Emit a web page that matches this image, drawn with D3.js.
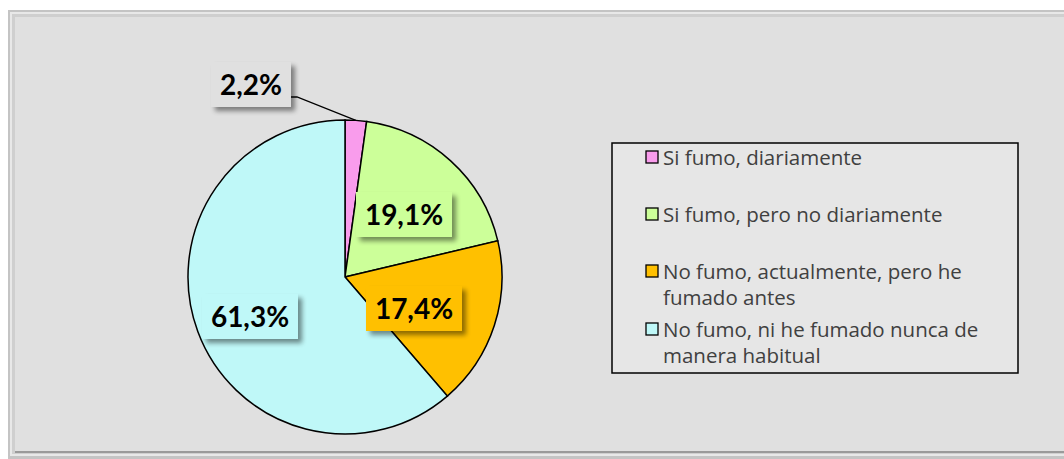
<!DOCTYPE html>
<html>
<head>
<meta charset="utf-8">
<script src="https://cdn.jsdelivr.net/npm/d3@7"></script>
<style>
  body { margin: 0; background: #fff; }
  svg { display: block; font-family: Lato, "Open Sans", sans-serif; }
</style>
</head>
<body>
<div id="chart"></div>
<script>
// categories and values (percent)
const categories = [
  "Si fumo, diariamente",
  "Si fumo, pero no diariamente",
  "No fumo, actualmente, pero he fumado antes",
  "No fumo, ni he fumado nunca de manera habitual"
];
const values = [2.2, 19.1, 17.4, 61.3];
const labels = ["2,2%", "19,1%", "17,4%", "61,3%"];
// legend lines (wrapped as in the original)
const legendLines = [
  ["Si fumo, diariamente"],
  ["Si fumo, pero no diariamente"],
  ["No fumo, actualmente, pero he", "fumado antes"],
  ["No fumo, ni he fumado nunca de", "manera habitual"]
];
const colors = ["#F99CEC", "#CCFF99", "#FFC000", "#BFF8F8"];

const width = 1064,
  height = 459;

const svg = d3
  .select("#chart")
  .append("svg")
  .attr("width", width)
  .attr("height", height);

// drop shadow for label boxes
const defs = svg.append("defs");
const filter = defs.append("filter").attr("id", "shadow")
  .attr("x", "-20%").attr("y", "-20%").attr("width", "150%").attr("height", "160%");
filter.append("feGaussianBlur").attr("in", "SourceAlpha").attr("stdDeviation", 2.5);
filter.append("feOffset").attr("dx", 4).attr("dy", 4).attr("result", "b");
filter.append("feComponentTransfer").append("feFuncA").attr("type", "linear").attr("slope", 0.45);
const merge = filter.append("feMerge");
merge.append("feMergeNode");
merge.append("feMergeNode").attr("in", "SourceGraphic");

// chart frame with bevel
svg.append("rect").attr("x", 8).attr("y", 10).attr("width", 1070).attr("height", 449).attr("fill", "#c4c4c4");
svg.append("rect").attr("x", 10).attr("y", 12).attr("width", 1066).attr("height", 444).attr("fill", "#e8e8e8");
svg.append("rect").attr("x", 12).attr("y", 14).attr("width", 1062).attr("height", 440).attr("fill", "#cfcfcf");
svg.append("rect").attr("x", 15).attr("y", 17).attr("width", 1060).attr("height", 436).attr("fill", "#9a9a9a");
svg.append("rect").attr("x", 15).attr("y", 17).attr("width", 1060).attr("height", 434).attr("fill", "#e0e0e0");

// pie
const cx = 345, cy = 277, radius = 157;
const g = svg.append("g").attr("transform", `translate(${cx},${cy})`);

const pie = d3.pie().sort(null).value((d) => d);
const arcs = pie(values);
const arc = d3.arc().innerRadius(0).outerRadius(radius);

g.selectAll("path.slice")
  .data(arcs)
  .join("path")
  .attr("class", "slice")
  .attr("d", arc)
  .attr("fill", (d, i) => colors[i])
  .attr("stroke", "#000")
  .attr("stroke-width", 1.5);

// label box positions relative to center (centre of each box)
const labelPos = [
  [-94, -192],
  [59, -62],
  [69, 32],
  [-95, 40]
];
const labelBg = ["#e0e0e0", "#CCFF99", "#FFC000", "#BFF8F8"];

// leader line for small slice
const a0 = arcs[0];
const mid0 = (a0.startAngle + a0.endAngle) / 2;
const edge = [Math.sin(mid0) * radius, -Math.cos(mid0) * radius];
g.append("polyline")
  .attr("points", [[-54, -180], [-48, -180], edge])
  .attr("fill", "none")
  .attr("stroke", "#000")
  .attr("stroke-width", 1.3);

const lab = g.selectAll("g.lab")
  .data(arcs)
  .join("g")
  .attr("class", "lab")
  .attr("transform", (d, i) => `translate(${labelPos[i]})`);

lab.append("rect")
  .attr("x", (d, i) => (i === 0 ? -40 : -48))
  .attr("y", -23)
  .attr("width", (d, i) => (i === 0 ? 80 : 96))
  .attr("height", 45)
  .attr("fill", (d, i) => labelBg[i])
  .attr("filter", "url(#shadow)");

lab.append("text")
  .attr("text-anchor", "middle")
  .attr("dy", "0.36em")
  .style("font-size", "28px")
  .style("font-weight", "bold")
  .attr("fill", "#000")
  .text((d, i) => labels[i]);

// legend
const legend = svg.append("g").attr("transform", "translate(612,143)");
legend.append("rect")
  .attr("width", 406).attr("height", 230)
  .attr("fill", "#e6e6e6").attr("stroke", "#000").attr("stroke-width", 1.5);

const legendY = [22, 79, 136, 194];
const item = legend.selectAll("g.item")
  .data(categories)
  .join("g")
  .attr("class", "item")
  .attr("transform", (d, i) => `translate(34,${legendY[i]})`);

item.append("rect")
  .attr("x", 0).attr("y", -14)
  .attr("width", 12).attr("height", 12)
  .attr("fill", (d, i) => colors[i])
  .attr("stroke", "#000").attr("stroke-width", 1.3);

item.append("text")
  .attr("x", 17)
  .style("font-family", "'Open Sans', sans-serif")
  .style("font-size", "20.5px")
  .attr("fill", "#404040")
  .selectAll("tspan")
  .data((d, i) => legendLines[i])
  .join("tspan")
  .attr("x", 17)
  .attr("dy", (d, j) => (j === 0 ? 0 : 26))
  .text((d) => d);
</script>
</body>
</html>
